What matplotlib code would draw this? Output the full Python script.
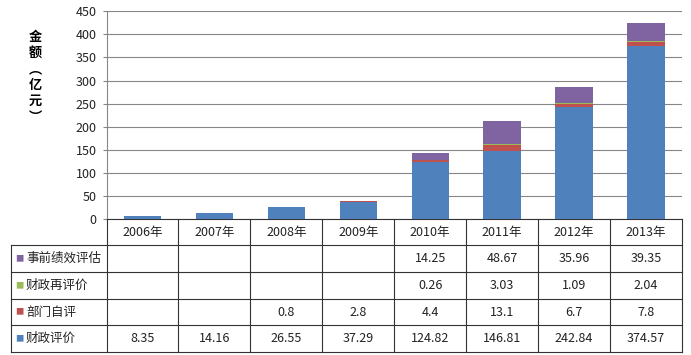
import numpy as np
import matplotlib
matplotlib.use("Agg")
import matplotlib.pyplot as plt

# Data
years = ["2006年", "2007年", "2008年", "2009年", "2010年", "2011年", "2012年", "2013年"]
nan = np.nan
czpj = [8.35, 14.16, 26.55, 37.29, 124.82, 146.81, 242.84, 374.57]   # 财政评价
bmzp = [nan, nan, 0.8, 2.8, 4.4, 13.1, 6.7, 7.8]                      # 部门自评
czzpj = [nan, nan, nan, nan, 0.26, 3.03, 1.09, 2.04]                  # 财政再评价
sqjx = [nan, nan, nan, nan, 14.25, 48.67, 35.96, 39.35]               # 事前绩效评估

series_names = ["财政评价", "部门自评", "财政再评价", "事前绩效评估"]
series_vals = [czpj, bmzp, czzpj, sqjx]
colors = ["#4F81BD", "#C0504D", "#9BBB59", "#8064A2"]

plt.rcParams["font.family"] = ["Noto Sans CJK SC", "DejaVu Sans"]

W, H = 691, 355
ax_l, ax_r, ax_t, ax_b = 106.5, 682, 11, 219.5
fig = plt.figure(figsize=(W / 100, H / 100), dpi=100)
ax = fig.add_axes([ax_l / W, 1 - ax_b / H, (ax_r - ax_l) / W, (ax_b - ax_t) / H])

x = np.arange(len(years))
bottom = np.zeros(len(years))
for vals, c in zip(series_vals, colors):
    v = np.nan_to_num(np.array(vals, dtype=float))
    ax.bar(x, v, bottom=bottom, width=0.52, color=c, zorder=3, linewidth=0)
    bottom += v

ax.set_xlim(-0.5, len(years) - 0.5)
ax.set_ylim(0, 450)
ax.set_yticks(np.arange(0, 451, 50))
ax.set_xticks([])
ax.grid(axis="y", color="#868686", lw=0.8, zorder=0)
ax.tick_params(axis="y", length=3, width=0.8, color="#868686", labelsize=9, pad=4,
               labelcolor="#222222")
for s in ["top", "right"]:
    ax.spines[s].set_visible(False)
ax.spines["left"].set_color("#868686")
ax.spines["left"].set_linewidth(0.8)
ax.spines["bottom"].set_color("#333333")
ax.spines["bottom"].set_linewidth(0.8)

# y label (vertical Chinese)
fig.text(35 / W, 1 - 77 / H, "金\n额\n︵\n亿\n元\n︶", ha="center", va="center",
         fontsize=9.5, fontweight="bold", linespacing=1.2)

# data table below axes
ax_h = ax_b - ax_t
cat_px = (ax_r - ax_l) / len(years)
row_px = [0, 25.5, 52.5, 79.5, 106, 132.5]
ry = [-p / ax_h for p in row_px]
x_left = -0.5 - (ax_l - 10.5) / cat_px
tr = ax.get_xaxis_transform()
lc = "#333333"
lw = 0.8

for yy in ry[1:]:
    ax.plot([x_left, len(years) - 0.5], [yy, yy], transform=tr, color=lc, lw=lw, clip_on=False)
ax.plot([x_left, x_left], [ry[1], ry[-1]], transform=tr, color=lc, lw=lw, clip_on=False)
for xv in np.arange(-0.5, len(years), 1.0):
    ax.plot([xv, xv], [0, ry[-1]], transform=tr, color=lc, lw=lw, clip_on=False)

fs = 9
for i, yr in enumerate(years):
    ax.text(i, (ry[0] + ry[1]) / 2, yr, transform=tr, ha="center", va="center", fontsize=fs,
            color="#222222")

table_rows = list(zip(series_names, series_vals, colors))[::-1]
for r, (name, vals, c) in enumerate(table_rows):
    yc = (ry[r + 1] + ry[r + 2]) / 2
    ax.text(-0.5 - (ax_l - 19.5) / cat_px, yc, "■", transform=tr, ha="center", va="center",
            fontsize=6, color=c)
    ax.text(-0.5 - (ax_l - 26) / cat_px, yc, name, transform=tr, ha="left", va="center",
            fontsize=fs, color="#222222")
    for i, v in enumerate(vals):
        if not np.isnan(v):
            ax.text(i, yc, f"{v:g}", transform=tr, ha="center", va="center", fontsize=fs,
                    color="#222222")

fig.savefig("out.png", dpi=100)
